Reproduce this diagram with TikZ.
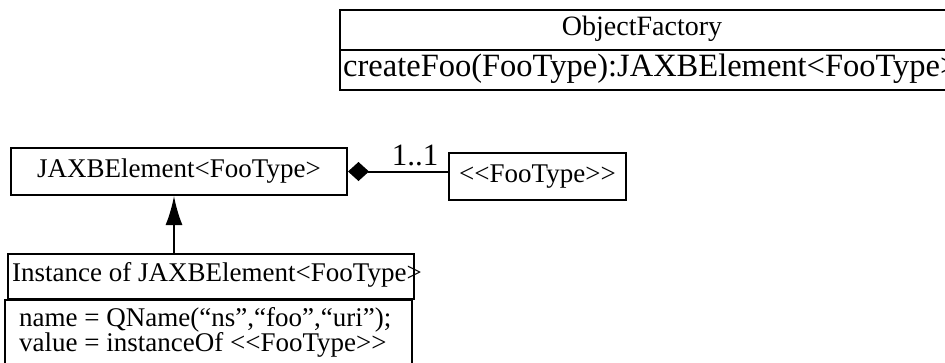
\documentclass[tikz,border=0pt]{standalone}
\usepackage{fontspec}
\newfontfamily\umlfont{Liberation Serif}
\usepackage{tikz}
\usetikzlibrary{arrows.meta}
\usetikzlibrary{positioning}

\tikzset{
  umlbox/.style={draw, line width=2pt, rectangle, inner sep=0pt, anchor=north west},
  umltext/.style={inner sep=0pt, font=\umlfont\fontsize{27}{22}\selectfont},
  inherit/.style={line width=2pt, -{Latex[length=29pt,width=17pt]}},
  owns/.style={line width=2pt, -{Diamond[length=21pt,width=19pt]}}
}

\begin{document}
\begin{tikzpicture}[x=1pt,y=-1pt]
 \useasboundingbox (0,0) rectangle (945,362);
 \clip (0,0) rectangle (945,362);

 % factory class, runs off the right side
 \node[umlbox, minimum width=610pt, minimum height=80pt] (factory) at (339,9) {};
 \draw[line width=2pt] (factory.west) -- (factory.east);
 \node[umltext, font=\umlfont\fontsize{28}{30}\selectfont] (factoryname) at (642,29) {ObjectFactory};
 \node[umltext, font=\umlfont\fontsize{32.5}{30}\selectfont, anchor=west] (factoryop) at (343,69) {createFoo(FooType):JAXBElement<FooType>};

 % element and its value type
 \node[umlbox, umltext, minimum width=336pt, minimum height=47pt] (jaxb) at (10,147) {JAXBElement<FooType>};
 \node[umlbox, umltext, minimum width=177pt, minimum height=47pt] (footype) at (448,152) {<<FooType>>};
 \draw[owns] (footype.west |- jaxb.east) -- (jaxb.east);
 \node[umltext, font=\umlfont\fontsize{31}{30}\selectfont, anchor=base] (mult) at (415,165) {1..1};

 % instance
 \node[umlbox, minimum width=406pt, minimum height=45pt] (inst) at (7,253) {};
 \node[umltext, anchor=west] (instname) at (12,275) {Instance of JAXBElement<FooType>};
 \node[umlbox, minimum width=407pt, minimum height=80pt] (slots) at (4,299) {};
 \node[umltext, anchor=north west, align=left] (slotvals) at (19,307) {name = QName(“ns”,“foo”,“uri”);\\value = instanceOf <<FooType>>};
 \coordinate (gen) at (174,253);
 \draw[inherit] (gen) -- (gen |- jaxb.south);

\end{tikzpicture}
\end{document}
